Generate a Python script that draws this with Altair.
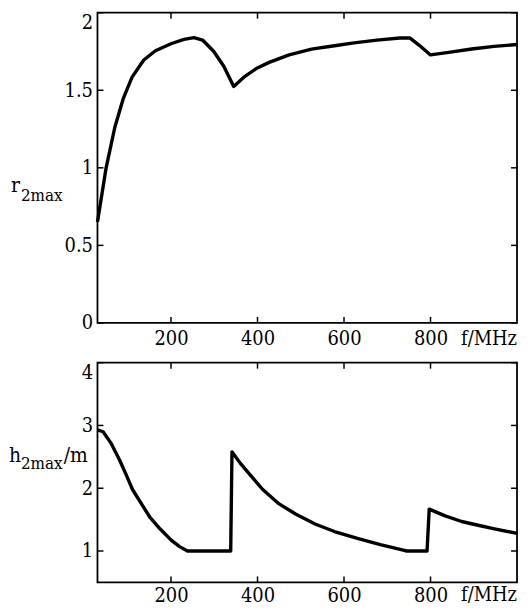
import altair as alt
import pandas as pd

# ---- data ----
f_top = [30, 50, 70, 90, 110, 137, 164, 200, 230, 253, 273, 299, 322, 345, 371, 397,
         427, 473, 525, 578, 623, 676, 729, 752, 774, 800, 842, 895, 947, 1000]
r_top = [0.65, 1.00, 1.26, 1.45, 1.585, 1.695, 1.755, 1.80, 1.828, 1.840, 1.824, 1.75,
         1.655, 1.525, 1.59, 1.64, 1.68, 1.728, 1.765, 1.787, 1.806, 1.823, 1.837, 1.838,
         1.79, 1.728, 1.744, 1.766, 1.783, 1.795]

f_bot = [30, 43, 62, 81, 96, 111, 130, 152, 175, 201, 220, 238, 338, 341, 360, 382, 412,
         450, 488, 533, 578, 631, 684, 737, 745, 792, 797, 834, 872, 910, 948, 1000]
h_bot = [2.93, 2.90, 2.71, 2.45, 2.22, 1.98, 1.77, 1.53, 1.35, 1.17, 1.07, 1.00, 1.00,
         2.58, 2.40, 2.22, 1.98, 1.75, 1.59, 1.43, 1.31, 1.20, 1.10, 1.015, 1.00, 1.00,
         1.667, 1.56, 1.47, 1.41, 1.354, 1.28]

x_ticks = [200, 400, 600, 800]
r_ticks = [0, 0.5, 1, 1.5, 2]
h_ticks = [1, 2, 3, 4]
x_domain = [30, 1000]
r_domain = [0, 2]
h_domain = [0.5, 4]

x_title = "f/MHz"
r_title = ["r", "2max"]
h_title = ["h", "2max", "/m"]

FONT = "DejaVu Serif Condensed, DejaVu Serif"
W = 422
TICK = 6
LSIZE = 20


def txt(s, x, y, size, align="left"):
    return alt.Chart(pd.DataFrame({"t": [s]})).mark_text(
        font=FONT, fontSize=size, align=align, baseline="alphabetic", color="black"
    ).encode(text="t:N", x=alt.value(x), y=alt.value(y))


def panel(fs, vs, ydomain, yticks, H, top_val, title_marks, lab_off):
    df = pd.DataFrame({"f": fs, "v": vs})
    xscale = alt.Scale(domain=x_domain, nice=False, zero=False)
    yscale = alt.Scale(domain=ydomain, nice=False, zero=False)
    x = alt.X("f:Q", scale=xscale,
              axis=alt.Axis(values=x_ticks, title=None, labelBaseline="alphabetic",
                            labelPadding=lab_off, labelAlign="center"))
    y = alt.Y("v:Q", scale=yscale,
              axis=alt.Axis(values=yticks, title=None, format="~g", labelPadding=5,
                            labelBaseline={"condition": {"test": f"datum.value == {top_val}",
                                                         "value": "top"},
                                           "value": "middle"}))
    line = alt.Chart(df).mark_line(color="black", strokeWidth=3.4, strokeJoin="round",
                                   strokeCap="butt").encode(x=x, y=y)

    xt = pd.DataFrame({"f": x_ticks})
    yt = pd.DataFrame({"v": yticks})
    rule = dict(color="black", strokeWidth=1.5)
    tb = alt.Chart(xt).mark_rule(**rule).encode(x=x, y=alt.value(H), y2=alt.value(H - TICK))
    tt = alt.Chart(xt).mark_rule(**rule).encode(x=x, y=alt.value(0), y2=alt.value(TICK))
    tl = alt.Chart(yt).mark_rule(**rule).encode(y=y, x=alt.value(0), x2=alt.value(TICK))
    tr = alt.Chart(yt).mark_rule(**rule).encode(y=y, x=alt.value(W), x2=alt.value(W - TICK))

    xlab = txt(x_title, W, H + lab_off, LSIZE, align="right")
    return alt.layer(line, tb, tt, tl, tr, xlab, *title_marks).properties(width=W, height=H)


top = panel(f_top, r_top, r_domain, r_ticks, 312, 2,
            [txt(r_title[0], -87, 180.5, 21), txt(r_title[1], -77, 189, 17)], 22)
bot = panel(f_bot, h_bot, h_domain, h_ticks, 221, 4,
            [txt(h_title[0], -89, 100, 21), txt(h_title[1], -77, 107.3, 17),
             txt(h_title[2], -34, 100, 21)], 19)

chart = alt.vconcat(top, bot, spacing=40, bounds="flush").properties(
    padding={"left": 0, "top": 1, "right": 0, "bottom": 0}
).configure_view(
    stroke="black", strokeWidth=1.8
).configure_axis(
    labelFont=FONT, labelFontSize=LSIZE, labelColor="black",
    domain=False, ticks=False, grid=False
)

chart.save("out.html", embed_options={"renderer": "svg", "actions": False})
